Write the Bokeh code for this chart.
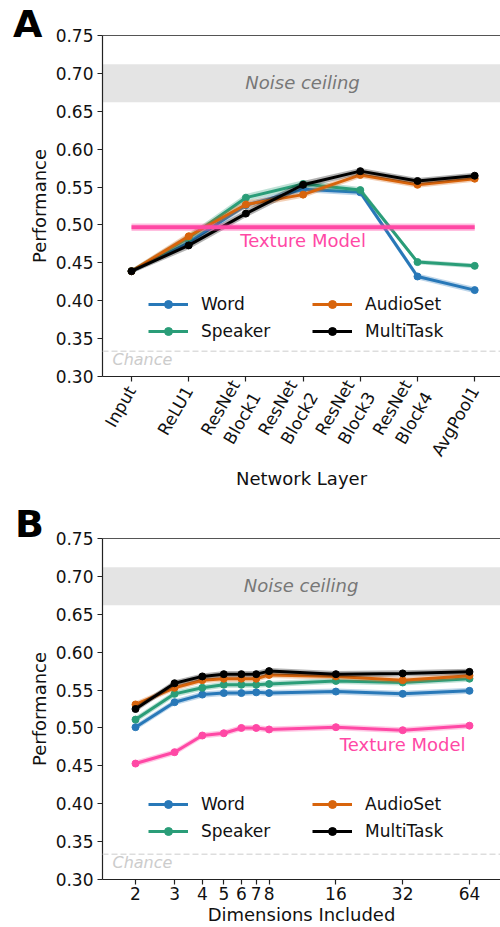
from bokeh.plotting import figure
from bokeh.models import (Range1d, FixedTicker, LinearAxis, LogAxis, BoxAnnotation, Span,
                          Label, Legend, LegendItem, ColumnDataSource, NumeralTickFormatter, Div)
from bokeh.layouts import column
from bokeh.embed import file_html
from bokeh.resources import INLINE

# ---------------- data ----------------
layers = ["Input", "ReLU1", "ResNet\nBlock1", "ResNet\nBlock2", "ResNet\nBlock3", "ResNet\nBlock4", "AvgPool1"]
word_a = [0.439, 0.477, 0.526, 0.547, 0.543, 0.432, 0.414]
speaker_a = [0.439, 0.483, 0.536, 0.554, 0.546, 0.451, 0.446]
audioset_a = [0.439, 0.485, 0.527, 0.540, 0.566, 0.553, 0.561]
multitask_a = [0.439, 0.473, 0.515, 0.553, 0.571, 0.558, 0.565]
word_a_err = [0.003, 0.004, 0.004, 0.004, 0.004, 0.004, 0.004]
speaker_a_err = [0.003, 0.005, 0.005, 0.005, 0.004, 0.003, 0.003]
audioset_a_err = [0.003, 0.005, 0.005, 0.004, 0.004, 0.004, 0.004]
multitask_a_err = [0.003, 0.005, 0.005, 0.005, 0.004, 0.004, 0.004]
texture_a = 0.497
texture_a_err = 0.005

dims = [2, 3, 4, 5, 6, 7, 8, 16, 32, 64]
dim_ticks = [2, 3, 4, 5, 6, 7, 8, 16, 32, 64]
word_b = [0.501, 0.534, 0.544, 0.546, 0.546, 0.547, 0.546, 0.548, 0.545, 0.549]
speaker_b = [0.511, 0.545, 0.553, 0.557, 0.557, 0.557, 0.558, 0.562, 0.560, 0.565]
audioset_b = [0.531, 0.553, 0.563, 0.565, 0.565, 0.565, 0.570, 0.568, 0.563, 0.569]
multitask_b = [0.525, 0.559, 0.568, 0.571, 0.571, 0.571, 0.575, 0.571, 0.572, 0.574]
texture_b = [0.453, 0.468, 0.490, 0.493, 0.500, 0.500, 0.498, 0.501, 0.497, 0.503]
err_b = [0.004, 0.004, 0.004, 0.004, 0.004, 0.004, 0.004, 0.004, 0.004, 0.004]

noise_ceiling = [0.662, 0.712]
chance = 1 / 3
y_ticks = [0.30, 0.35, 0.40, 0.45, 0.50, 0.55, 0.60, 0.65, 0.70, 0.75]

# ---------------- style ----------------
C_WORD = "#2878b8"
C_SPEAKER = "#2a9d78"
C_AUDIOSET = "#d8640c"
C_MULTI = "#000000"
C_TEXTURE = "#ff48a5"
FONT = "DejaVu Sans"
AX = "#222222"


def base_fig(height, top, bottom, **kw):
    p = figure(width=500, height=height, y_range=Range1d(y_ticks[0], y_ticks[-1]),
               output_backend="svg", toolbar_location=None,
               min_border_left=102, min_border_right=0, min_border_top=top,
               min_border_bottom=bottom, **kw)
    p.outline_line_color = None
    p.xgrid.visible = False
    p.ygrid.visible = False
    p.background_fill_color = "white"
    p.border_fill_color = "white"
    return p


def style_axis(ax):
    ax.axis_line_color = AX
    ax.axis_line_width = 1.2
    ax.major_tick_line_color = AX
    ax.major_tick_line_width = 1.2
    ax.major_tick_out = 5
    ax.major_tick_in = 0
    ax.minor_tick_line_color = None
    ax.major_label_text_font = FONT
    ax.major_label_text_font_size = "17px"
    ax.major_label_text_color = "#111111"
    ax.axis_label_text_font = FONT
    ax.axis_label_text_font_size = "18px"
    ax.axis_label_text_font_style = "normal"
    ax.axis_label_text_color = "#111111"


def common(p, top_axis_cls, label_x):
    p.yaxis.ticker = FixedTicker(ticks=y_ticks)
    p.yaxis.formatter = NumeralTickFormatter(format="0.00")
    p.yaxis.axis_label = "Performance"
    p.yaxis.axis_label_standoff = 3
    p.yaxis.major_label_standoff = 4
    for ax in p.xaxis + p.yaxis:
        style_axis(ax)
    top = top_axis_cls(ticker=FixedTicker(ticks=[]), axis_line_color="#555555",
                       major_tick_line_color=None, minor_tick_line_color=None,
                       major_label_text_font_size="0px")
    p.add_layout(top, "above")
    p.add_layout(BoxAnnotation(bottom=noise_ceiling[0], top=noise_ceiling[1],
                               fill_color="#e4e4e4", fill_alpha=1.0, line_color=None, level="underlay"))
    p.add_layout(Label(x=label_x, y=0.688, text="Noise ceiling", text_align="center",
                       text_baseline="middle", text_font=FONT, text_font_style="italic",
                       text_font_size="18px", text_color="#777777"))
    p.add_layout(Span(location=chance, dimension="width", line_color="#dddddd",
                      line_dash="6 3", line_width=1.5))
    p.add_layout(Label(x=10, x_units="screen", y=0.3226, text="Chance", text_align="left",
                       text_baseline="middle", text_font=FONT, text_font_style="italic",
                       text_font_size="16px", text_color="#cccccc"))


def series(p, x, y, err, color, lw=3, size=7):
    lo = [a - e for a, e in zip(y, err)]
    hi = [a + e for a, e in zip(y, err)]
    src = ColumnDataSource(dict(x=x, y=y, lo=lo, hi=hi))
    p.varea(x="x", y1="lo", y2="hi", source=src, fill_color=color, fill_alpha=0.3)
    l = p.line("x", "y", source=src, line_color=color, line_width=lw)
    s = p.scatter("x", "y", source=src, size=size, fill_color=color, line_color=color)
    return [l, s]


def legends(p, rw, rs, ra, rm, y):
    for items, x in (([LegendItem(label="Word", renderers=rw), LegendItem(label="Speaker", renderers=rs)], 46),
                     ([LegendItem(label="AudioSet", renderers=ra), LegendItem(label="MultiTask", renderers=rm)], 210)):
        leg = Legend(items=items, location=(x, y), orientation="vertical",
                     glyph_width=40, glyph_height=20, label_height=20, spacing=7,
                     padding=0, margin=0, label_standoff=13,
                     label_text_font=FONT, label_text_font_size="17px", label_text_color="#111111",
                     border_line_color=None, background_fill_alpha=0)
        p.add_layout(leg)


def letter(txt, left, top):
    return Div(text=txt, styles={"position": "absolute", "left": f"{left}px", "top": f"{top}px",
                                 "font-family": FONT, "font-size": "38px", "font-weight": "bold",
                                 "line-height": "36px", "color": "#000000", "z-index": "10"})


# ---------------- Panel A ----------------
xa = list(range(len(layers)))
pA = base_fig(500, 35, 124, x_range=Range1d(-0.507, 6.451))
common(pA, LinearAxis, 2.99)
axA = pA.below[0]
axA.ticker = FixedTicker(ticks=xa)
axA.major_label_overrides = {i: lab for i, lab in zip(xa, layers)}
axA.major_label_orientation = 1.0472
axA.major_label_standoff = 6
axA.axis_label = "Network Layer"
axA.axis_label_standoff = 0

rw = series(pA, xa, word_a, word_a_err, C_WORD)
rs = series(pA, xa, speaker_a, speaker_a_err, C_SPEAKER)
ra = series(pA, xa, audioset_a, audioset_a_err, C_AUDIOSET)
rm = series(pA, xa, multitask_a, multitask_a_err, C_MULTI)
tx = [xa[0], xa[-1]]
pA.varea(x=tx, y1=[texture_a - texture_a_err] * 2, y2=[texture_a + texture_a_err] * 2,
         fill_color=C_TEXTURE, fill_alpha=0.35)
pA.line(x=tx, y=[texture_a] * 2, line_color=C_TEXTURE, line_width=4)
pA.add_layout(Label(x=3, y=0.4796, text="Texture Model", text_align="center", text_baseline="middle",
                    text_font=FONT, text_font_size="18px", text_color=C_TEXTURE))
legends(pA, rw, rs, ra, rm, 35)

# ---------------- Panel B ----------------
pB = base_fig(427, 38, 48, x_axis_type="log", x_range=Range1d(1.420, 88.3))
common(pB, LogAxis, 11.15)
axB = pB.below[0]
axB.ticker = FixedTicker(ticks=dim_ticks)
axB.major_label_overrides = {d: str(d) for d in dim_ticks}
axB.major_tick_out = 5
axB.major_label_standoff = 2
axB.axis_label = "Dimensions Included"
axB.axis_label_standoff = 1

rw = series(pB, dims, word_b, err_b, C_WORD)
rs = series(pB, dims, speaker_b, err_b, C_SPEAKER)
ra = series(pB, dims, audioset_b, err_b, C_AUDIOSET)
rm = series(pB, dims, multitask_b, err_b, C_MULTI)
series(pB, dims, texture_b, err_b, C_TEXTURE)
pB.add_layout(Label(x=32, y=0.478, text="Texture Model", text_align="center", text_baseline="middle",
                    text_font=FONT, text_font_size="18px", text_color=C_TEXTURE))
legends(pB, rw, rs, ra, rm, 38)

layout = column(letter("A", 8, 1), pA, letter("B", 10, 501), pB)
open("out.html", "w").write(file_html(layout, INLINE))
